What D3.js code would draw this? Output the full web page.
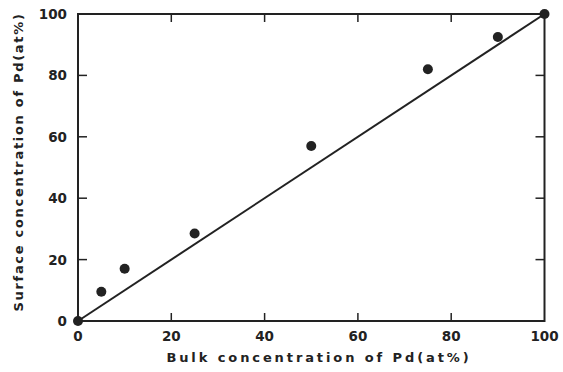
<!DOCTYPE html>
<html>
<head>
<meta charset="utf-8">
<script src="https://cdn.jsdelivr.net/npm/d3@7"></script>
<style>
  body { margin: 0; background: #fff; }
  text { font-family: "DejaVu Sans", sans-serif; font-weight: bold; fill: #222; }
</style>
</head>
<body>
<div id="chart"></div>
<script>
// Measured points (bulk vs surface Pd concentration, at%)
const bulkPd = [0, 5, 10, 25, 50, 75, 90, 100];
const surfacePd = [0, 9.5, 17, 28.5, 57, 82, 92.5, 100];
// Reference line y = x
const lineBulk = [0, 100];
const lineSurface = [0, 100];
const tickValues = [0, 20, 40, 60, 80, 100];

const margin = {left: 78, right: 18, top: 14, bottom: 51};
const width = 563, height = 372;

const svg = d3.select("#chart")
    .append("svg")
    .attr("width", width)
    .attr("height", height);

const xScale = d3.scaleLinear().domain([0, 100]).range([margin.left, width - margin.right - 0.5]);
const yScale = d3.scaleLinear().domain([0, 100]).range([height - margin.bottom, margin.top]);

const stroke = "#222";

// frame
svg.append("rect")
    .attr("x", xScale(0)).attr("y", yScale(100))
    .attr("width", xScale(100) - xScale(0))
    .attr("height", yScale(0) - yScale(100))
    .attr("fill", "none").attr("stroke", stroke).attr("stroke-width", 2);

// inward ticks on all four sides
const inner = [20, 40, 60, 80];
svg.append("g").selectAll("line").data(inner).enter().append("line")
    .attr("x1", d => xScale(d)).attr("x2", d => xScale(d))
    .attr("y1", yScale(0)).attr("y2", yScale(0) - 8)
    .attr("stroke", stroke).attr("stroke-width", 1.5);
svg.append("g").selectAll("line").data(inner).enter().append("line")
    .attr("x1", d => xScale(d)).attr("x2", d => xScale(d))
    .attr("y1", yScale(100)).attr("y2", yScale(100) + 8)
    .attr("stroke", stroke).attr("stroke-width", 1.5);
svg.append("g").selectAll("line").data(inner).enter().append("line")
    .attr("y1", d => yScale(d)).attr("y2", d => yScale(d))
    .attr("x1", xScale(0)).attr("x2", xScale(0) + 9)
    .attr("stroke", stroke).attr("stroke-width", 1.5);
svg.append("g").selectAll("line").data(inner).enter().append("line")
    .attr("y1", d => yScale(d)).attr("y2", d => yScale(d))
    .attr("x1", xScale(100)).attr("x2", xScale(100) - 9)
    .attr("stroke", stroke).attr("stroke-width", 1.5);

// tick labels
svg.append("g").selectAll("text").data(tickValues).enter().append("text")
    .attr("x", d => xScale(d)).attr("y", yScale(0) + 20)
    .attr("text-anchor", "middle")
    .style("font-size", "13.5px")
    .text(d => d);
svg.append("g").selectAll("text").data(tickValues).enter().append("text")
    .attr("x", xScale(0) - 11).attr("y", d => yScale(d) + 5)
    .attr("text-anchor", "end")
    .style("font-size", "13.5px")
    .text(d => d);

// axis titles
svg.append("text")
    .attr("x", 319).attr("y", 362)
    .attr("text-anchor", "middle")
    .style("font-size", "13px")
    .style("letter-spacing", "2.9px")
    .text("Bulk concentration of Pd(at%)");
svg.append("text")
    .attr("transform", "translate(23," + 162 + ") rotate(-90)")
    .attr("text-anchor", "middle")
    .style("font-size", "13px")
    .style("letter-spacing", "1.7px")
    .text("Surface concentration of Pd(at%)");

// y = x line
const lineData = lineBulk.map((d, i) => ({x: d, y: lineSurface[i]}));
svg.append("path")
    .datum(lineData)
    .attr("fill", "none").attr("stroke", stroke).attr("stroke-width", 2)
    .attr("d", d3.line().x(d => xScale(d.x)).y(d => yScale(d.y)));

// points
const points = bulkPd.map((d, i) => ({x: d, y: surfacePd[i]}));
svg.append("g").selectAll("circle").data(points).enter().append("circle")
    .attr("cx", d => xScale(d.x)).attr("cy", d => yScale(d.y))
    .attr("r", 5)
    .attr("fill", stroke);
</script>
</body>
</html>
